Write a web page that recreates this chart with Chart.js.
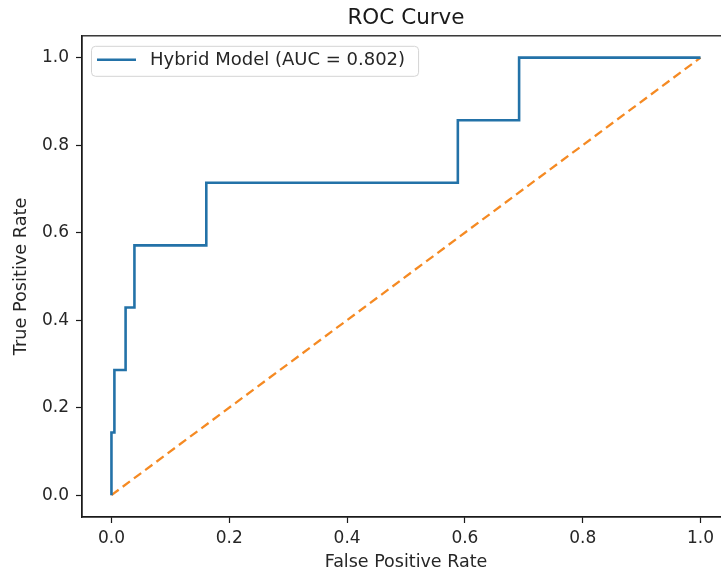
<!DOCTYPE html>
<html>
<head>
<meta charset="utf-8">
<script src="https://cdn.jsdelivr.net/npm/chart.js@4.4.1/dist/chart.umd.min.js"></script>
<style>
  html, body { margin: 0; padding: 0; background: #fff; overflow: hidden; }
  #wrap { width: 733px; height: 575px; }
</style>
</head>
<body>
<div id="wrap"><canvas id="c" width="733" height="575"></canvas></div>
<script>
// Data
const fprValues = [0, 0, 0.005, 0.005, 0.024, 0.024, 0.039, 0.039, 0.161, 0.161, 0.588, 0.588, 0.692, 0.692, 1.0];
const tprValues = [0, 0.143, 0.143, 0.286, 0.286, 0.429, 0.429, 0.571, 0.571, 0.714, 0.714, 0.857, 0.857, 1.0, 1.0];
const chanceX = [0, 1];
const chanceY = [0, 1];
const tickValues = [0, 0.2, 0.4, 0.6, 0.8, 1.0];
const modelLabel = 'Hybrid Model (AUC = 0.802)';
const titleText = 'ROC Curve';
const xTitle = 'False Positive Rate';
const yTitle = 'True Positive Rate';

const FONT = "'DejaVu Sans', sans-serif";

const rocPoints = fprValues.map((x, i) => ({ x: x, y: tprValues[i] }));
const chancePoints = chanceX.map((x, i) => ({ x: x, y: chanceY[i] }));

const setTicks = (scale) => { scale.ticks = tickValues.map(v => ({ value: v })); };

// full matplotlib-style frame around the plot area
const frameBox = {
  id: 'frameBox',
  afterDatasetsDraw(chart) {
    const a = chart.chartArea, ctx = chart.ctx;
    ctx.save();
    ctx.strokeStyle = '#1a1a1a';
    ctx.lineWidth = 1.3;
    ctx.strokeRect(a.left, a.top, a.right - a.left, a.bottom - a.top);
    ctx.restore();
  }
};

// legend drawn inside the axes, upper left, like matplotlib
const innerLegend = {
  id: 'innerLegend',
  afterDraw(chart) {
    const ds = chart.data.datasets[0];
    const a = chart.chartArea, ctx = chart.ctx;
    ctx.save();
    ctx.font = "18px " + FONT;
    const tw = ctx.measureText(ds.label).width;
    const x = a.left + 9, y = a.top + 10, w = 59 + tw + 13, h = 30;
    ctx.fillStyle = 'rgba(255,255,255,0.8)';
    ctx.strokeStyle = '#d4d4d4';
    ctx.lineWidth = 1;
    ctx.beginPath();
    ctx.roundRect(x + 0.5, y + 0.5, w, h, 4);
    ctx.fill();
    ctx.stroke();
    const cy = y + 14;
    ctx.strokeStyle = ds.borderColor;
    ctx.lineWidth = ds.borderWidth;
    ctx.beginPath();
    ctx.moveTo(x + 6, cy);
    ctx.lineTo(x + 45, cy);
    ctx.stroke();
    ctx.fillStyle = '#262626';
    ctx.textBaseline = 'middle';
    ctx.textAlign = 'left';
    ctx.fillText(ds.label, x + 59, cy + 1);
    ctx.restore();
  }
};

new Chart(document.getElementById('c'), {
  type: 'scatter',
  data: {
    datasets: [
      {
        label: modelLabel,
        data: rocPoints,
        showLine: true,
        borderColor: '#2372a8',
        backgroundColor: '#2372a8',
        borderWidth: 2.6,
        pointRadius: 0,
        pointHoverRadius: 0,
        tension: 0
      },
      {
        label: 'chance',
        data: chancePoints,
        showLine: true,
        borderColor: '#f58a23',
        borderWidth: 2.3,
        borderDash: [9, 5],
        pointRadius: 0,
        pointHoverRadius: 0
      }
    ]
  },
  options: {
    responsive: false,
    animation: false,
    layout: { padding: { left: 0, right: 3, top: 0, bottom: 0 } },
    plugins: {
      tooltip: { enabled: false },
      legend: { display: false },
      title: {
        display: true,
        fullSize: false,
        text: titleText,
        color: '#1a1a1a',
        font: { family: FONT, size: 21.5, weight: 'normal', lineHeight: 1.2 },
        padding: { top: 6, bottom: 4 }
      }
    },
    scales: {
      x: {
        type: 'linear',
        min: -0.05,
        max: 1.05,
        afterBuildTicks: setTicks,
        afterFit: (s) => { s.height = 58; },
        border: { display: true, color: '#1a1a1a', width: 1.3 },
        grid: { drawOnChartArea: false, drawTicks: true, tickLength: 6, color: '#1a1a1a', tickWidth: 1.2 },
        ticks: {
          color: '#262626',
          font: { family: FONT, size: 17 },
          padding: 5,
          maxRotation: 0,
          callback: (v) => Number(v).toFixed(1)
        },
        title: {
          display: true,
          text: xTitle,
          color: '#262626',
          font: { family: FONT, size: 17.5, lineHeight: 1.2 },
          padding: { top: 2, bottom: 2 }
        }
      },
      y: {
        type: 'linear',
        min: -0.05,
        max: 1.05,
        afterBuildTicks: setTicks,
        afterFit: (s) => { s.width = 82; },
        border: { display: true, color: '#1a1a1a', width: 1.3 },
        grid: { drawOnChartArea: false, drawTicks: true, tickLength: 6, color: '#1a1a1a', tickWidth: 1.2 },
        ticks: {
          color: '#262626',
          font: { family: FONT, size: 17 },
          padding: 7,
          callback: (v) => Number(v).toFixed(1)
        },
        title: {
          display: true,
          text: yTitle,
          color: '#262626',
          font: { family: FONT, size: 17.7, lineHeight: 1.2 },
          padding: { top: 11, bottom: 11 }
        }
      }
    }
  },
  plugins: [frameBox, innerLegend]
});
</script>
</body>
</html>
